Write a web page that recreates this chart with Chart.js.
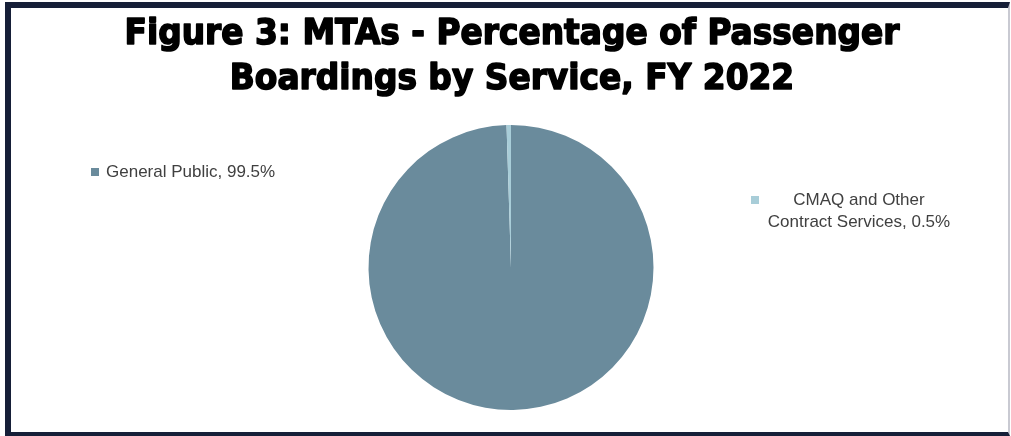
<!DOCTYPE html>
<html>
<head>
<meta charset="utf-8">
<script src="https://cdn.jsdelivr.net/npm/chart.js@4"></script>
<style>
  html, body { margin: 0; padding: 0; background: #fff; }
  #wrap { position: relative; width: 1011px; height: 436px; }
  #frame {
    position: absolute; left: 5px; top: 2px; right: 1px; bottom: 0;
    border-left: 6px solid #161f38; border-top: 6px solid #161f38;
    border-bottom: 4px solid #161f38; border-right: 2px solid #c9cad2;
    pointer-events: none;
  }
</style>
</head>
<body>
<div id="wrap">
  <canvas id="pie_chart" width="1011" height="436"></canvas>
  <div id="frame"></div>
</div>
<script>
// data
var titleLines = ['Figure 3: MTAs - Percentage of Passenger', 'Boardings by Service, FY 2022'];
var services = ['General Public', 'CMAQ and Other Contract Services'];
var shares = [99.5, 0.5];
var sliceColors = ['#6a8b9c', '#a8cdd8'];

// where Excel put the data labels (relative to the canvas)
var labelSpots = [
    { x: 91, y: 172, align: 'left' },
    { x: 751, y: 200, align: 'center', width: 192, cx: 859 }
];

function wrapText(ctx, text, maxW) {
    var words = text.split(' ');
    var lines = [];
    var cur = '';
    for (var i = 0; i < words.length; i++) {
        var test = cur ? cur + ' ' + words[i] : words[i];
        if (maxW && ctx.measureText(test).width > maxW && cur) {
            lines.push(cur);
            cur = words[i];
        } else {
            cur = test;
        }
    }
    lines.push(cur);
    return lines;
}

// heavy, slightly squeezed title like the original
const bigTitle = {
    id: 'bigTitle',
    afterDraw(chart) {
        const ctx = chart.ctx;
        ctx.save();
        ctx.font = 'bold 35px "DejaVu Sans", sans-serif';
        ctx.textAlign = 'center';
        ctx.textBaseline = 'alphabetic';
        ctx.fillStyle = '#000';
        ctx.strokeStyle = '#000';
        ctx.lineWidth = 1.6;
        ctx.lineJoin = 'round';
        var sx = 775 / ctx.measureText(titleLines[0]).width;
        titleLines.forEach(function (t, k) {
            ctx.save();
            ctx.translate(512, 44 + k * 45);
            ctx.scale(sx, 1);
            ctx.fillText(t, 0, 0);
            ctx.strokeText(t, 0, 0);
            ctx.restore();
        });
        ctx.restore();
    }
};

// draws the "■ Name, xx%" labels like the excel chart
const sliceLabels = {
    id: 'sliceLabels',
    afterDraw(chart) {
        const ctx = chart.ctx;
        const ds = chart.data.datasets[0];
        ctx.save();
        ctx.font = '17px "Liberation Sans", Arial, sans-serif';
        ctx.textBaseline = 'middle';
        chart.data.labels.forEach(function (lab, i) {
            var spot = labelSpots[i];
            var txt = lab + ', ' + ds.data[i].toFixed(1) + '%';
            var lines = wrapText(ctx, txt, spot.width);
            ctx.fillStyle = ds.backgroundColor[i];
            ctx.fillRect(spot.x, spot.y - 4, 8, 8);
            ctx.fillStyle = '#404040';
            if (spot.align == 'left') {
                ctx.textAlign = 'left';
                lines.forEach(function (l, k) { ctx.fillText(l, spot.x + 15, spot.y + k * 22); });
            } else {
                ctx.textAlign = 'center';
                lines.forEach(function (l, k) { ctx.fillText(l, spot.cx, spot.y + k * 22); });
            }
        });
        ctx.restore();
    }
};

const ctx = document.getElementById('pie_chart').getContext('2d');
const myChart = new Chart(ctx, {
    type: 'pie',
    data: {
        labels: services,
        datasets: [{
            data: shares,
            backgroundColor: sliceColors,
            borderWidth: 0
        }]
    },
    options: {
        responsive: false,
        animation: false,
        layout: { padding: { left: 11, right: 0, top: 125, bottom: 26 } },
        plugins: {
            legend: { display: false },
            tooltip: { enabled: false },
            title: { display: false }
        }
    },
    plugins: [bigTitle, sliceLabels]
});
</script>
</body>
</html>
